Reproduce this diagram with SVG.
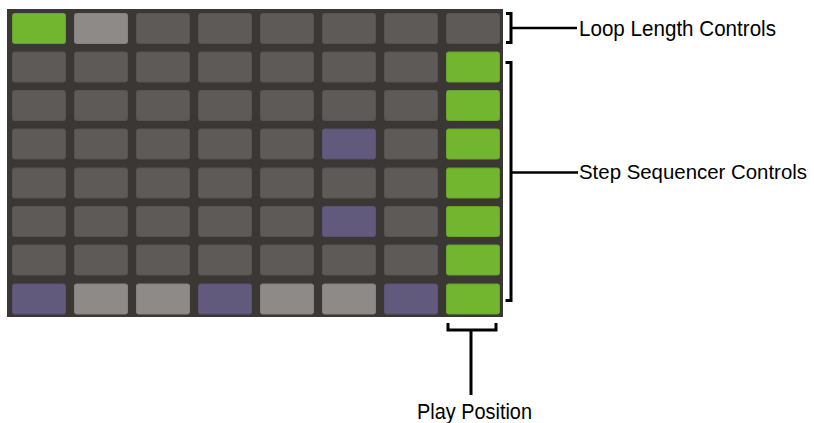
<svg xmlns="http://www.w3.org/2000/svg" width="814" height="423" viewBox="0 0 814 423">
<style>
.pad{stroke-width:1;}
.d{fill:#5e5a57;stroke:#575350;}
.l{fill:#8e8a88;stroke:#86827f;}
.g{fill:#72b52f;stroke:#66a42a;}
.p{fill:#625a7c;stroke:#5a5373;}
.br{fill:none;stroke:#000;stroke-width:3;}
.ln{fill:none;stroke:#000;stroke-width:2.5;}
.t{font-family:"Liberation Sans",Arial,sans-serif;font-size:21.5px;fill:#000;}
.ts{font-size:20.4px;}
</style>
<rect x="0" y="0" width="814" height="423" fill="#fff"/>
<g id="grid">
<rect x="7" y="9" width="496" height="308" fill="#3b3734"/>
<g id="row0">
<rect class="pad g" x="12.5" y="13.5" width="53" height="30" rx="2"/>
<rect class="pad l" x="74.5" y="13.5" width="53" height="30" rx="2"/>
<rect class="pad d" x="136.5" y="13.5" width="53" height="30" rx="2"/>
<rect class="pad d" x="198.5" y="13.5" width="53" height="30" rx="2"/>
<rect class="pad d" x="260.5" y="13.5" width="53" height="30" rx="2"/>
<rect class="pad d" x="322.5" y="13.5" width="53" height="30" rx="2"/>
<rect class="pad d" x="384.5" y="13.5" width="53" height="30" rx="2"/>
<rect class="pad d" x="446.5" y="13.5" width="53" height="30" rx="2"/>
</g>
<g id="row1">
<rect class="pad d" x="12.5" y="52" width="53" height="30" rx="2"/>
<rect class="pad d" x="74.5" y="52" width="53" height="30" rx="2"/>
<rect class="pad d" x="136.5" y="52" width="53" height="30" rx="2"/>
<rect class="pad d" x="198.5" y="52" width="53" height="30" rx="2"/>
<rect class="pad d" x="260.5" y="52" width="53" height="30" rx="2"/>
<rect class="pad d" x="322.5" y="52" width="53" height="30" rx="2"/>
<rect class="pad d" x="384.5" y="52" width="53" height="30" rx="2"/>
<rect class="pad g" x="446.5" y="52" width="53" height="30" rx="2"/>
</g>
<g id="row2">
<rect class="pad d" x="12.5" y="90.5" width="53" height="30" rx="2"/>
<rect class="pad d" x="74.5" y="90.5" width="53" height="30" rx="2"/>
<rect class="pad d" x="136.5" y="90.5" width="53" height="30" rx="2"/>
<rect class="pad d" x="198.5" y="90.5" width="53" height="30" rx="2"/>
<rect class="pad d" x="260.5" y="90.5" width="53" height="30" rx="2"/>
<rect class="pad d" x="322.5" y="90.5" width="53" height="30" rx="2"/>
<rect class="pad d" x="384.5" y="90.5" width="53" height="30" rx="2"/>
<rect class="pad g" x="446.5" y="90.5" width="53" height="30" rx="2"/>
</g>
<g id="row3">
<rect class="pad d" x="12.5" y="129" width="53" height="30" rx="2"/>
<rect class="pad d" x="74.5" y="129" width="53" height="30" rx="2"/>
<rect class="pad d" x="136.5" y="129" width="53" height="30" rx="2"/>
<rect class="pad d" x="198.5" y="129" width="53" height="30" rx="2"/>
<rect class="pad d" x="260.5" y="129" width="53" height="30" rx="2"/>
<rect class="pad p" x="322.5" y="129" width="53" height="30" rx="2"/>
<rect class="pad d" x="384.5" y="129" width="53" height="30" rx="2"/>
<rect class="pad g" x="446.5" y="129" width="53" height="30" rx="2"/>
</g>
<g id="row4">
<rect class="pad d" x="12.5" y="168" width="53" height="30" rx="2"/>
<rect class="pad d" x="74.5" y="168" width="53" height="30" rx="2"/>
<rect class="pad d" x="136.5" y="168" width="53" height="30" rx="2"/>
<rect class="pad d" x="198.5" y="168" width="53" height="30" rx="2"/>
<rect class="pad d" x="260.5" y="168" width="53" height="30" rx="2"/>
<rect class="pad d" x="322.5" y="168" width="53" height="30" rx="2"/>
<rect class="pad d" x="384.5" y="168" width="53" height="30" rx="2"/>
<rect class="pad g" x="446.5" y="168" width="53" height="30" rx="2"/>
</g>
<g id="row5">
<rect class="pad d" x="12.5" y="206.5" width="53" height="30" rx="2"/>
<rect class="pad d" x="74.5" y="206.5" width="53" height="30" rx="2"/>
<rect class="pad d" x="136.5" y="206.5" width="53" height="30" rx="2"/>
<rect class="pad d" x="198.5" y="206.5" width="53" height="30" rx="2"/>
<rect class="pad d" x="260.5" y="206.5" width="53" height="30" rx="2"/>
<rect class="pad p" x="322.5" y="206.5" width="53" height="30" rx="2"/>
<rect class="pad d" x="384.5" y="206.5" width="53" height="30" rx="2"/>
<rect class="pad g" x="446.5" y="206.5" width="53" height="30" rx="2"/>
</g>
<g id="row6">
<rect class="pad d" x="12.5" y="245" width="53" height="30" rx="2"/>
<rect class="pad d" x="74.5" y="245" width="53" height="30" rx="2"/>
<rect class="pad d" x="136.5" y="245" width="53" height="30" rx="2"/>
<rect class="pad d" x="198.5" y="245" width="53" height="30" rx="2"/>
<rect class="pad d" x="260.5" y="245" width="53" height="30" rx="2"/>
<rect class="pad d" x="322.5" y="245" width="53" height="30" rx="2"/>
<rect class="pad d" x="384.5" y="245" width="53" height="30" rx="2"/>
<rect class="pad g" x="446.5" y="245" width="53" height="30" rx="2"/>
</g>
<g id="row7">
<rect class="pad p" x="12.5" y="284" width="53" height="30" rx="2"/>
<rect class="pad l" x="74.5" y="284" width="53" height="30" rx="2"/>
<rect class="pad l" x="136.5" y="284" width="53" height="30" rx="2"/>
<rect class="pad p" x="198.5" y="284" width="53" height="30" rx="2"/>
<rect class="pad l" x="260.5" y="284" width="53" height="30" rx="2"/>
<rect class="pad l" x="322.5" y="284" width="53" height="30" rx="2"/>
<rect class="pad p" x="384.5" y="284" width="53" height="30" rx="2"/>
<rect class="pad g" x="446.5" y="284" width="53" height="30" rx="2"/>
</g>
</g>
<g id="connectors">
<path class="br" d="M506,13.5 H511 V42.5 H506"/>
<line class="ln" x1="511" y1="28" x2="577" y2="28"/>
<path class="br" d="M505.5,62.5 H511 V300.5 H505.5"/>
<line class="ln" x1="511" y1="172.5" x2="578" y2="172.5"/>
<path class="br" d="M448,323 V330 H496 V323"/>
<line class="br" x1="471" y1="330" x2="471" y2="395"/>
</g>
<g id="label-loop">
<text class="t" x="579" y="36" textLength="197" lengthAdjust="spacingAndGlyphs">Loop Length Controls</text>
</g>
<g id="label-step">
<text class="t ts" x="579" y="179" textLength="228" lengthAdjust="spacingAndGlyphs">Step Sequencer Controls</text>
</g>
<g id="label-play">
<text class="t" x="417" y="419" textLength="115" lengthAdjust="spacingAndGlyphs">Play Position</text>
</g>
</svg>
